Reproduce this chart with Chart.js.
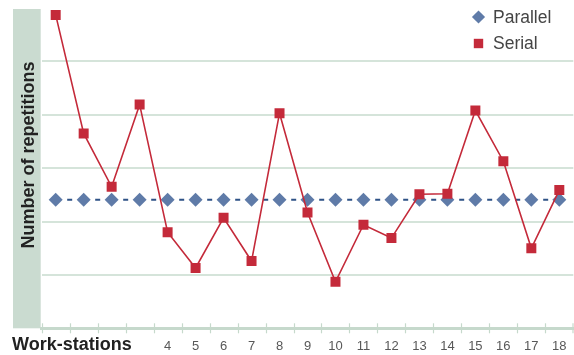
<!DOCTYPE html>
<html>
<head>
<meta charset="utf-8">
<script src="https://cdn.jsdelivr.net/npm/chart.js@4/dist/chart.umd.min.js"></script>
<style>
  html, body { margin: 0; padding: 0; background: #ffffff; }
  #wrap { width: 574px; height: 355px; position: relative; }
</style>
</head>
<body>
<div id="wrap"><canvas id="chart" width="574" height="355"></canvas></div>
<script>
// Work-station numbers along the x axis
const stations = ['0', '1', '2', '3', '4', '5', '6', '7', '8', '9', '10', '11', '12', '13', '14', '15', '16', '17', '18'];

// Number of repetitions per work-station
const parallelReps = [24.1, 24.1, 24.1, 24.1, 24.1, 24.1, 24.1, 24.1, 24.1, 24.1, 24.1, 24.1, 24.1, 24.1, 24.1, 24.1, 24.1, 24.1, 24.1];
const serialReps   = [58.7, 36.5, 26.5, 41.9, 18.0, 11.3, 20.7, 12.6, 40.3, 21.7, 8.7, 19.4, 16.9, 25.1, 25.2, 40.8, 31.3, 15.0, 25.9];

// Value axis range and grid step (no tick labels are printed)
const yMin = 0;
const yMax = 60;
const yStep = 10;

const COLORS = {
  band: '#cadbd0',
  grid: '#d5e4da',
  axis: '#c6d9cc',
  serial: '#c42a3a',
  parallelMark: '#5f7ba8',
  parallelLine: '#2e5286',
  text: '#222222',
  tickText: '#585858',
  legendText: '#454545'
};
const FONT = '"Liberation Sans", Arial, Helvetica, sans-serif';

// Shaded band behind the y-axis caption, axis caption texts, crossing tick marks
const decorations = {
  id: 'decorations',
  beforeDraw(chart) {
    const { ctx, chartArea } = chart;
    ctx.save();
    ctx.fillStyle = COLORS.band;
    ctx.fillRect(13, chartArea.top + 1, chartArea.left - 1 - 13, chartArea.bottom - chartArea.top - 1);
    ctx.restore();
  },
  afterDraw(chart) {
    const { ctx, chartArea } = chart;
    const x = chart.scales.x;
    ctx.save();
    // tick marks at the category boundaries, crossing the axis line
    const step = x.getPixelForValue(1) - x.getPixelForValue(0);
    ctx.strokeStyle = COLORS.axis;
    ctx.lineWidth = 1.2;
    for (let i = 0; i <= stations.length; i++) {
      const px = Math.min(Math.round(x.getPixelForValue(i) - step / 2) + 0.5, chart.width - 1);
      ctx.beginPath();
      ctx.moveTo(px, chartArea.bottom - 5);
      ctx.lineTo(px, chartArea.bottom + 5);
      ctx.stroke();
    }
    // y-axis caption
    ctx.fillStyle = COLORS.text;
    ctx.font = 'bold 18px ' + FONT;
    ctx.textAlign = 'center';
    ctx.textBaseline = 'alphabetic';
    ctx.translate(33.5, 155);
    ctx.rotate(-Math.PI / 2);
    ctx.fillText('Number of repetitions', 0, 0);
    ctx.setTransform(1, 0, 0, 1, 0, 0);
    // x-axis caption
    ctx.textAlign = 'left';
    ctx.fillText('Work-stations', 12, 350);
    ctx.restore();
  }
};

// Legend in the top-right corner, using each dataset's marker
const cornerLegend = {
  id: 'cornerLegend',
  afterDraw(chart) {
    const { ctx } = chart;
    const items = [chart.data.datasets[0], chart.data.datasets[1]];
    const rows = [17, 43.5];
    ctx.save();
    ctx.font = '17.5px ' + FONT;
    ctx.textBaseline = 'middle';
    ctx.textAlign = 'left';
    items.forEach((ds, i) => {
      const cx = 478.5, cy = rows[i];
      ctx.fillStyle = ds.pointBackgroundColor;
      ctx.beginPath();
      if (ds.pointStyle === 'rectRot') {
        const r = 6.6;
        ctx.moveTo(cx - r, cy); ctx.lineTo(cx, cy - r); ctx.lineTo(cx + r, cy); ctx.lineTo(cx, cy + r);
        ctx.closePath();
      } else {
        ctx.rect(cx - 4.7, cy - 4.7, 9.4, 9.4);
      }
      ctx.fill();
      ctx.fillStyle = COLORS.legendText;
      ctx.fillText(ds.label, 493, cy + 1);
    });
    ctx.restore();
  }
};

new Chart(document.getElementById('chart'), {
  type: 'line',
  data: {
    labels: stations,
    datasets: [
      {
        label: 'Parallel',
        data: parallelReps,
        order: 2,
        borderColor: COLORS.parallelLine,
        borderWidth: 2,
        borderDash: [5, 9],
        borderDashOffset: 2.5,
        pointStyle: 'rectRot',
        pointRadius: 7,
        pointBorderWidth: 0,
        pointBackgroundColor: COLORS.parallelMark,
        pointBorderColor: COLORS.parallelMark,
        tension: 0
      },
      {
        label: 'Serial',
        data: serialReps,
        order: 1,
        borderColor: COLORS.serial,
        borderWidth: 1.6,
        pointStyle: 'rect',
        pointRadius: 7.07,
        pointBorderWidth: 0,
        pointBackgroundColor: COLORS.serial,
        pointBorderColor: COLORS.serial,
        tension: 0
      }
    ]
  },
  options: {
    responsive: false,
    animation: false,
    devicePixelRatio: 1,
    layout: { autoPadding: false, padding: { left: 41.7, right: 0.7, top: 8, bottom: 0 } },
    plugins: {
      legend: { display: false },
      tooltip: { enabled: false }
    },
    scales: {
      x: {
        offset: true,
        grid: { offset: true, drawOnChartArea: false, drawTicks: false },
        border: { display: true, color: COLORS.axis, width: 3 },
        ticks: {
          autoSkip: false,
          maxRotation: 0,
          padding: 10,
          color: COLORS.tickText,
          font: { family: FONT, size: 13 },
          // the first few numbers sit under the axis caption
          callback: (value, index) => (index < 4 ? '' : stations[index])
        },
        afterFit: (scale) => {
          scale.height = 26.7;
          scale.paddingLeft = 0;
          scale.paddingRight = 0;
        }
      },
      y: {
        min: yMin,
        max: yMax,
        ticks: { display: false, stepSize: yStep },
        border: { display: false },
        grid: {
          drawTicks: false,
          lineWidth: 2,
          color: (ctx) => (ctx.tick && (ctx.tick.value === yMin || ctx.tick.value === yMax)) ? 'rgba(0,0,0,0)' : COLORS.grid
        },
        afterFit: (scale) => {
          scale.width = 0;
          scale.paddingTop = 0;
          scale.paddingBottom = 0;
        }
      }
    }
  },
  plugins: [decorations, cornerLegend]
});
</script>
</body>
</html>
